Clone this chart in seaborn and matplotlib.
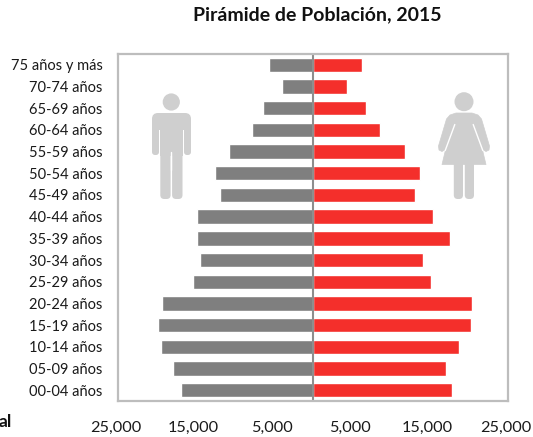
import matplotlib
matplotlib.use('Agg')
import matplotlib.pyplot as plt
from matplotlib.patches import Circle, FancyBboxPatch, Polygon, Rectangle
from matplotlib.transforms import ScaledTranslation
import numpy as np
import seaborn as sns

# age groups, top row first
edades = ['75 años y más', '70-74 años', '65-69 años', '60-64 años', '55-59 años', '50-54 años',
          '45-49 años', '40-44 años', '35-39 años', '30-34 años', '25-29 años', '20-24 años',
          '15-19 años', '10-14 años', '05-09 años', '00-04 años']
hombres = [5650, 3980, 6370, 7830, 10820, 12570, 11930, 14920, 14830, 14540, 15350, 19320, 19880, 19500, 18000, 16880]
mujeres = [6280, 4360, 6840, 8630, 11750, 13700, 13030, 15430, 17560, 14060, 15090, 20350, 20260, 18680, 17050, 17860]
ticks = [-25000, -15000, -5000, 5000, 15000, 25000]
tick_labels = ['25,000', '15,000', '5,000', '5,000', '15,000', '25,000']

W, H = 533, 437
gris = '#7F7F7F'
rojo = '#F42F2B'
icono = '#CFCFCF'
marco = '#BDBDBD'

sns.set_theme(style='white')
plt.rcParams['font.family'] = ['Lato', 'DejaVu Sans']

fig = plt.figure(figsize=(W / 100, H / 100), dpi=100)
ax = fig.add_axes([118 / W, 1 - 401 / H, 390 / W, 347 / H])

sns.barplot(x=-np.array(hombres), y=edades, color=gris, saturation=1, width=0.66, ax=ax)
sns.barplot(x=np.array(mujeres), y=edades, color=rojo, saturation=1, width=0.66, ax=ax)

ax.axvline(0, color='#8E8E8E', lw=1.5)
ax.set_xlim(-25000, 25000)
ax.set_ylim(15.5, -0.5)
ax.set_xticks(ticks)
ax.set_xticklabels(tick_labels, fontsize=11.7, color='#1a1a1a')
ax.tick_params(axis='x', length=0, pad=14.5)
ax.tick_params(axis='y', length=0, pad=11, labelsize=10.5, labelcolor='#1a1a1a')
ax.set_xlabel('')
ax.set_ylabel('')
for s in ax.spines.values():
    s.set_color(marco)
    s.set_linewidth(1.6)

# labels sit a little left of the ticks in the original
shift = ScaledTranslation(-2.4 / 100, 0, fig.dpi_scale_trans)
for lab in ax.get_xticklabels():
    lab.set_transform(lab.get_transform() + shift)

fig.text(317.5 / W, 1 - 15 / H, 'Pirámide de Población, 2015', fontsize=14, fontweight='bold',
         color='#111111', ha='center', va='center')
fig.text(12 / W, 1 - 422 / H, 'al', fontsize=12.5, fontweight='bold', color='#111111',
         ha='right', va='center')

# icons, overlay in pixel coordinates
ov = fig.add_axes([0, 0, 1, 1], facecolor='none')
ov.set_xlim(0, W)
ov.set_ylim(H, 0)
ov.axis('off')

def caja(x0, y0, x1, y1, r=3):
    ov.add_patch(FancyBboxPatch((x0 + r, y0 + r), x1 - x0 - 2 * r, y1 - y0 - 2 * r,
                                boxstyle=f'round,pad={r}', fc=icono, ec='none'))

# man
ov.add_patch(Circle((171.3, 102), 8.6, fc=icono, ec='none'))
caja(152, 113, 191, 130, r=6)
ov.add_patch(Rectangle((152, 120), 39, 6, fc=icono, ec='none'))
caja(152, 122, 159, 155)
caja(184, 122, 191, 155)
ov.add_patch(Rectangle((160.3, 120), 22.2, 36, fc=icono, ec='none'))
caja(160.3, 150, 170.6, 199, r=4)
caja(172.1, 150, 182.5, 199, r=4)
ov.plot([171.3, 171.3], [152, 170], color='white', lw=1)

# woman
ov.add_patch(Circle((464, 101.7), 9.5, fc=icono, ec='none'))
ov.add_patch(Polygon([(456, 113), (472, 113), (478, 115), (481.5, 119), (489.5, 146), (489, 150), (486, 151.5),
                      (483.5, 150), (482.5, 150), (486, 164.5), (442, 164.5), (445.5, 150), (444.5, 150),
                      (442, 151.5), (439, 150), (438.5, 146), (446.5, 119), (450, 115)],
                     closed=True, fc=icono, ec=icono, lw=0.5, joinstyle='round'))
ov.plot([454.8, 445.2], [124.5, 150.5], color='white', lw=1)
ov.plot([473.2, 482.8], [124.5, 150.5], color='white', lw=1)
caja(453.8, 160, 463, 199, r=4)
caja(464.8, 160, 474, 199, r=4)

plt.savefig('out.png', dpi=100)
plt.close()
